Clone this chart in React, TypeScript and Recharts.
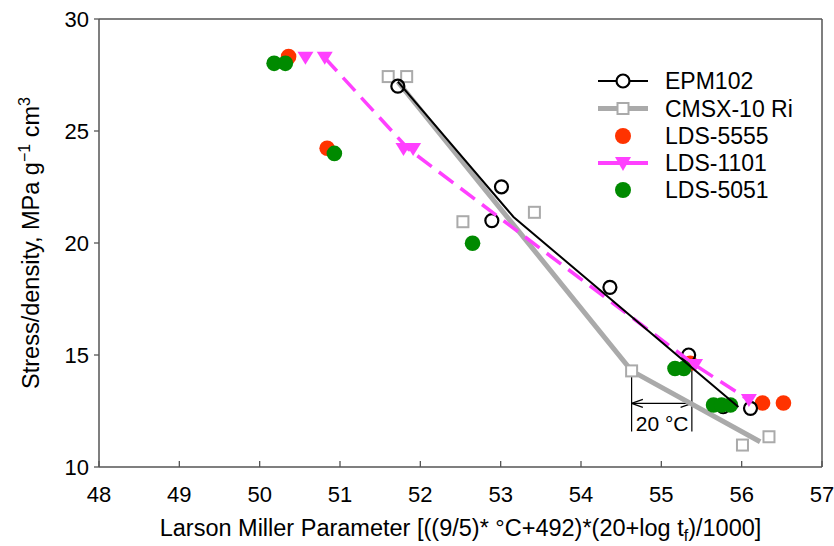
import React from "react";
import {
  ScatterChart,
  Scatter,
  XAxis,
  YAxis,
  ReferenceLine,
  ReferenceDot,
  Legend,
  Label,
} from "recharts";

// EPM102 measured points and its fitted line
const epmX = [51.72, 53.01, 52.89, 54.36, 55.34, 55.77, 56.11];
const epmY = [27.0, 22.51, 21.0, 18.02, 15.0, 12.69, 12.62];
const epmFitX = [51.72, 53.16, 55.96];
const epmFitY = [27.2, 21.16, 12.68];

// CMSX-10 Ri
const cmsxX = [51.6, 51.83, 52.53, 53.42, 54.63, 56.01, 56.34];
const cmsxY = [27.43, 27.43, 20.95, 21.37, 14.29, 10.98, 11.35];
const cmsxFitX = [51.72, 54.63, 56.23];
const cmsxFitY = [27.2, 14.29, 11.13];

// LDS alloys
const lds5555X = [50.36, 50.84, 55.36, 56.26, 56.52];
const lds5555Y = [28.32, 24.23, 14.63, 12.86, 12.86];
const lds1101X = [50.57, 50.81, 51.79, 51.91, 55.42, 56.09];
const lds1101Y = [28.27, 28.27, 24.2, 24.2, 14.55, 12.99];
const lds1101FitX = [50.81, 51.85, 55.42, 56.09];
const lds1101FitY = [28.27, 24.2, 14.55, 12.99];
const lds5051X = [50.18, 50.32, 50.93, 52.65, 55.17, 55.28, 55.65, 55.75, 55.86];
const lds5051Y = [28.02, 28.02, 24.0, 19.99, 14.4, 14.4, 12.77, 12.77, 12.77];

const xTicks = [48, 49, 50, 51, 52, 53, 54, 55, 56, 57];
const yTicks = [10, 15, 20, 25, 30];

const legendNames = ["EPM102", "CMSX-10 Ri", "LDS-5555", "LDS-1101", "LDS-5051"];

const pts = (xs: number[], ys: number[]) => xs.map((x, i) => ({ x, y: ys[i] }));

const AXIS = "#555";
const GRAY = "#aaaaaa";
const RED = "#ff3300";
const PINK = "#ff40ff";
const GREEN = "#008a00";
const FONT = "'Liberation Sans', Arial, sans-serif";

const none = () => <g />;

const OpenCircle = (p: any) => (
  <circle cx={p.cx} cy={p.cy} r={6.5} fill="none" stroke="#000" strokeWidth={2.2} />
);
const OpenSquare = (p: any) => (
  <rect x={p.cx - 5.5} y={p.cy - 5.5} width={11} height={11} fill="#fff" stroke={GRAY} strokeWidth={2} />
);
const Dot = (color: string) => (p: any) => <circle cx={p.cx} cy={p.cy} r={7.8} fill={color} />;
const DownTri = (p: any) => (
  <path d={`M${p.cx - 8},${p.cy - 6} L${p.cx + 8},${p.cy - 6} L${p.cx},${p.cy + 7} Z`} fill={PINK} />
);

function XTick({ x, y, payload }: any) {
  return (
    <g>
      <line x1={x} x2={x} y1={y} y2={y - 6} stroke={AXIS} strokeWidth={1.3} />
      <text x={x} y={y + 35} textAnchor="middle" fontSize={22} fill="#000">
        {payload.value}
      </text>
    </g>
  );
}

function XTitle({ viewBox }: any) {
  const cx = viewBox.x + viewBox.width / 2;
  return (
    <text x={cx} y={viewBox.y + 69} textAnchor="middle" fontSize={23.5} fill="#000">
      {"Larson Miller Parameter [((9/5)* °C+492)*(20+log t"}
      <tspan fontSize={16} dy={5}>f</tspan>
      <tspan dy={-5}>{")/1000]"}</tspan>
    </text>
  );
}

function YTitle({ viewBox }: any) {
  const cy = viewBox.y + viewBox.height / 2;
  const x = 39;
  return (
    <text x={x} y={cy} textAnchor="middle" fontSize={23.5} fill="#000" transform={`rotate(-90, ${x}, ${cy})`}>
      {"Stress/density, MPa g"}
      <tspan fontSize={16} dy={-9}>{"−1"}</tspan>
      <tspan dy={9}>{" cm"}</tspan>
      <tspan fontSize={16} dy={-9}>3</tspan>
    </text>
  );
}

function LegendBox() {
  const rows = [17, 44.5, 72, 99, 126];
  const icons = [
    (y: number) => (
      <g>
        <line x1={8} x2={58} y1={y} y2={y} stroke="#000" strokeWidth={2} />
        <circle cx={33} cy={y} r={6.5} fill="#fff" stroke="#000" strokeWidth={2.2} />
      </g>
    ),
    (y: number) => (
      <g>
        <line x1={8} x2={58} y1={y} y2={y} stroke={GRAY} strokeWidth={5} />
        <rect x={27.5} y={y - 5.5} width={11} height={11} fill="#fff" stroke={GRAY} strokeWidth={2} />
      </g>
    ),
    (y: number) => <circle cx={33} cy={y} r={8} fill={RED} />,
    (y: number) => (
      <g>
        <line x1={8} x2={58} y1={y} y2={y} stroke={PINK} strokeWidth={4} />
        <path d={`M25,${y - 6} L41,${y - 6} L33,${y + 8} Z`} fill={PINK} />
      </g>
    ),
    (y: number) => <circle cx={33} cy={y} r={8} fill={GREEN} />,
  ];
  return (
    <svg width={220} height={145} style={{ fontFamily: FONT }}>
      {legendNames.map((n, i) => (
        <g key={n}>
          {icons[i](rows[i])}
          <text x={75} y={rows[i] + 8} fontSize={23} fill="#000">
            {n}
          </text>
        </g>
      ))}
    </svg>
  );
}

export default function App() {
  return (
    <div style={{ position: "absolute", left: 0, top: 0, background: "#fff" }}>
      <ScatterChart
        width={834}
        height={546}
        margin={{ top: 19, right: 12, bottom: 0, left: 0 }}
        style={{ fontFamily: FONT }}
      >
        <XAxis
          type="number"
          dataKey="x"
          domain={[48, 57]}
          ticks={xTicks}
          height={79}
          tickSize={0}
          tickMargin={0}
          tick={<XTick />}
          axisLine={{ stroke: AXIS, strokeWidth: 1.5 }}
          interval={0}
        >
          <Label content={<XTitle />} />
        </XAxis>
        <YAxis
          type="number"
          dataKey="y"
          domain={[10, 30]}
          ticks={yTicks}
          width={99}
          tickSize={5}
          tickMargin={5}
          tick={{ fontSize: 22, fill: "#000" }}
          tickLine={{ stroke: AXIS, strokeWidth: 1.3 }}
          axisLine={{ stroke: AXIS, strokeWidth: 1.5 }}
          interval={0}
        >
          <Label content={<YTitle />} />
        </YAxis>
        <ReferenceLine y={30} stroke={AXIS} strokeWidth={1.5} />
        <ReferenceLine x={57} stroke={AXIS} strokeWidth={1.5} />

        <Scatter
          data={pts(cmsxFitX, cmsxFitY)}
          line={{ stroke: GRAY, strokeWidth: 5 }}
          shape={none}
          isAnimationActive={false}
        />
        <Scatter data={pts(cmsxX, cmsxY)} shape={OpenSquare} isAnimationActive={false} />
        <Scatter data={pts(lds5555X, lds5555Y)} shape={Dot(RED)} isAnimationActive={false} />
        <Scatter data={pts(epmX, epmY)} shape={OpenCircle} isAnimationActive={false} />
        <Scatter
          data={pts(lds1101FitX, lds1101FitY)}
          line={{ stroke: PINK, strokeWidth: 3.5, strokeDasharray: "18 9" }}
          shape={none}
          isAnimationActive={false}
        />
        <Scatter data={pts(lds1101X, lds1101Y)} shape={DownTri} isAnimationActive={false} />
        <Scatter data={pts(lds5051X, lds5051Y)} shape={Dot(GREEN)} isAnimationActive={false} />
        <Scatter
          data={pts(epmFitX, epmFitY)}
          line={{ stroke: "#000", strokeWidth: 2 }}
          shape={none}
          isAnimationActive={false}
        />

        {/* 20 °C bracket */}
        <ReferenceLine segment={[{ x: 54.63, y: 14.04 }, { x: 54.63, y: 11.58 }]} stroke="#000" strokeWidth={1.2} />
        <ReferenceLine segment={[{ x: 55.38, y: 14.63 }, { x: 55.38, y: 11.58 }]} stroke="#000" strokeWidth={1.2} />
        <ReferenceLine segment={[{ x: 54.63, y: 12.84 }, { x: 55.38, y: 12.84 }]} stroke="#000" strokeWidth={1.2} />
        <ReferenceLine segment={[{ x: 54.63, y: 12.84 }, { x: 54.77, y: 13.02 }]} stroke="#000" strokeWidth={1.2} />
        <ReferenceLine segment={[{ x: 54.63, y: 12.84 }, { x: 54.77, y: 12.66 }]} stroke="#000" strokeWidth={1.2} />
        <ReferenceLine segment={[{ x: 55.38, y: 12.84 }, { x: 55.24, y: 13.02 }]} stroke="#000" strokeWidth={1.2} />
        <ReferenceLine segment={[{ x: 55.38, y: 12.84 }, { x: 55.24, y: 12.66 }]} stroke="#000" strokeWidth={1.2} />
        <ReferenceDot
          x={55.01}
          y={11.92}
          r={0}
          stroke="none"
          label={{ value: "20 °C", position: "center", fontSize: 21, fill: "#000" }}
        />

        <Legend
          layout="horizontal"
          verticalAlign="middle"
          align="center"
          content={<LegendBox />}
          wrapperStyle={{ position: "absolute", left: 590, top: 64, width: 220, height: 145 }}
        />
      </ScatterChart>
    </div>
  );
}
